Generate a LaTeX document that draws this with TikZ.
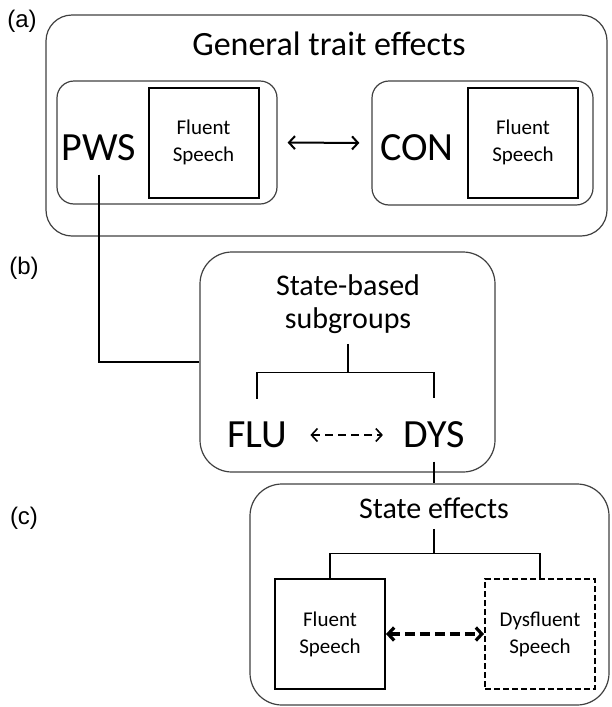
\documentclass[tikz,border=0pt]{standalone}
\usepackage{fontspec}
\setmainfont{Carlito}
\newfontfamily\etichettafont{Liberation Sans}
\usetikzlibrary{arrows.meta}

\tikzset{
	contenitore/.style={draw=black!75, line width=0.6pt},
	quadrato/.style={draw, line width=1pt, minimum width=55pt, minimum height=55pt, align=center, font=\fontsize{10.5}{13.5}\selectfont},
	gruppo/.style={inner sep=6.5pt, font=\fontsize{20}{24}\selectfont},
	titolo/.style={inner sep=5pt, align=center, font=\fontsize{15}{16.5}\selectfont},
	etichetta/.style={font=\etichettafont\fontsize{12}{14}\selectfont},
	ramo/.style={line width=0.6pt}
}

\begin{document}
\begin{tikzpicture}[x=0.5pt, y=-0.5pt, >={Straight Barb[length=3pt,width=6.5pt]}]
		\useasboundingbox (0,0) rectangle (611,707);
		
		%Disegno i nodi del primo schema
		\node (etichettaA) at (22,21) [etichetta]{(a)};
		
		\node (boxA) at (326.5,125.5) [contenitore, rounded corners=13pt, minimum width=280.5pt, minimum height=110.5pt]{};
		
		\node (titoloA) at (329,44) [titolo, font=\fontsize{17}{20}\selectfont]{General trait effects};
		
		\node (boxPWS) at (167,142.5) [contenitore, rounded corners=8.5pt, minimum width=110pt, minimum height=61.5pt]{};
		
		\node (pws) at (99,148) [gruppo]{PWS};
		
		\node (fluentePWS) at (203.5,142.5) [quadrato]{Fluent\\Speech};
		
		\node (boxCON) at (482.5,143) [contenitore, rounded corners=8.5pt, minimum width=110.5pt, minimum height=62pt]{};
		
		\node (con) at (417,148) [gruppo]{CON};
		
		\node (fluenteCON) at (523,142.5) [quadrato]{Fluent\\Speech};
		
		%Disegno i collegamenti
		\draw[<->, line width=1pt, shorten <=5pt, shorten >=6pt] (boxPWS.east) -- (boxCON.west);
		
		
		%Disegno i nodi del secondo schema
		\node (etichettaB) at (24,268) [etichetta]{(b)};
		
		\node (boxB) at (347.5,362) [contenitore, rounded corners=16pt, minimum width=147.5pt, minimum height=110pt]{};
		
		\node (titoloB) at (348,304) [titolo]{State-based\\subgroups};
		
		\node (flu) at (257,435) [gruppo]{FLU};
		
		\node (dys) at (434,435) [gruppo]{DYS};
		
		%Disegno i collegamenti
		\draw[ramo, line width=0.7pt] (pws.south) |- (boxB.west);
		
		\draw[ramo] (titoloB.south) -- ++(0,29) coordinate (ramoB);
		
		\draw[ramo, shorten <=5pt, shorten >=5pt] (flu.north) |- (ramoB) -| (dys.north);
		
		\draw[<->, line width=0.8pt, dash pattern=on 4pt off 2.5pt, shorten <=5pt, shorten >=3.5pt] (flu.east) -- (dys.west);
		
		
		%Disegno i nodi del terzo schema
		\node (etichettaC) at (24,518) [etichetta]{(c)};
		
		\node (boxC) at (429.5,594.5) [contenitore, rounded corners=16pt, minimum width=179.5pt, minimum height=110.5pt]{};
		
		\node (titoloC) at (434,508) [titolo]{State effects};
		
		\node (fluenteC) at (330,634) [quadrato]{Fluent\\Speech};
		
		\node (disfluenteC) at (540,634) [quadrato, dash pattern=on 3pt off 1.5pt]{Dysfluent\\Speech};
		
		%Disegno i collegamenti
		\draw[ramo] (dys.south) -- (dys.south |- boxC.north);
		
		\draw[ramo] (titoloC.south) -- ++(0,25) coordinate (ramoC);
		
		\draw[ramo] (fluenteC.north) |- (ramoC) -| (disfluenteC.north);
		
		\draw[<->, line width=1.6pt, dash pattern=on 5pt off 2.5pt] (fluenteC.east) -- (disfluenteC.west);
		
\end{tikzpicture}
\end{document}
